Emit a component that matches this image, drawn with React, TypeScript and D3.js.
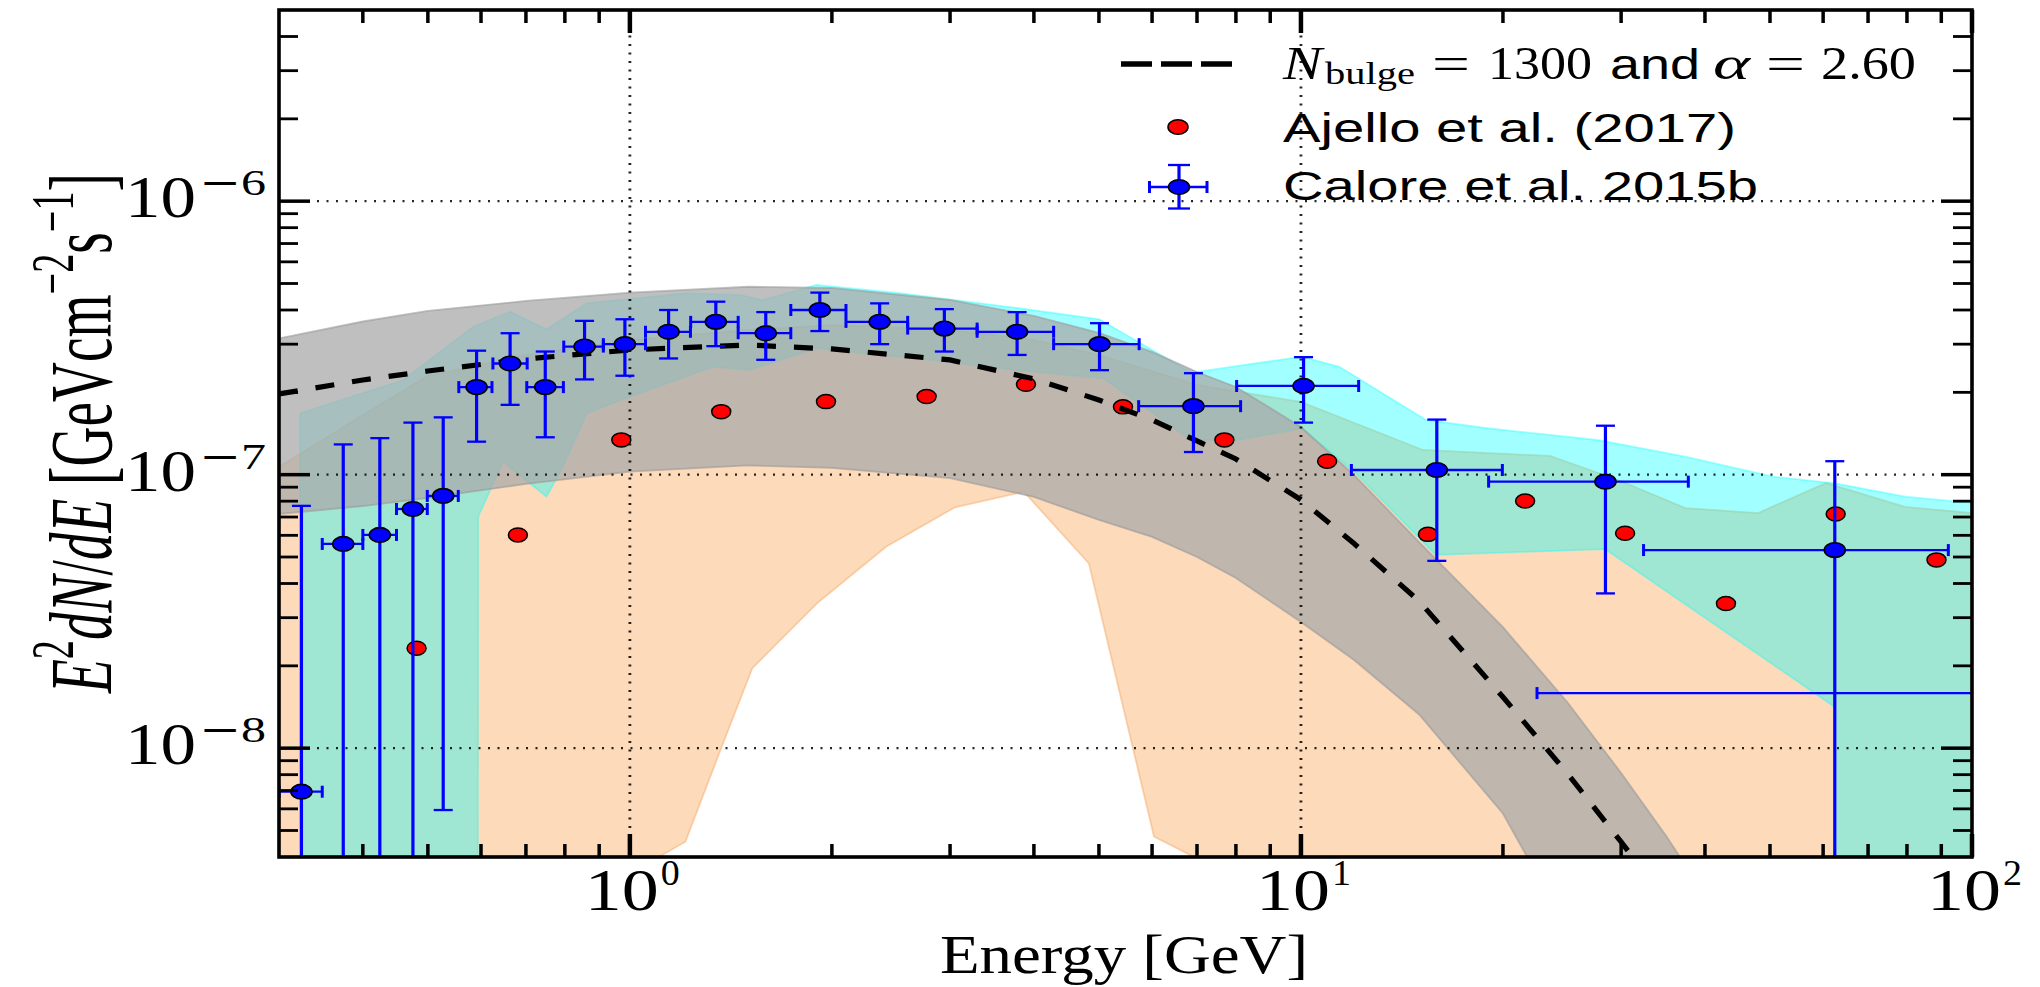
import * as d3 from 'd3'

const W = 2040
const H = 987
const M = { left: 279, right: 1972, top: 10, bottom: 857 }

// model: N_bulge = 1300, alpha = 2.60 (dashed) with its grey band
const modelE = [0.3, 0.4, 0.5, 0.7, 1, 1.5, 2, 3, 4, 5, 6, 7, 8, 10, 12, 15, 20, 25, 30, 35, 40]
const modelFlux = [1.973e-7, 2.219e-7, 2.394e-7, 2.649e-7, 2.858e-7, 2.98e-7, 2.882e-7, 2.627e-7, 2.239e-7, 1.875e-7, 1.586e-7, 1.328e-7, 1.141e-7, 8.1e-8, 5.6e-8, 3.45e-8, 1.538e-8, 8.04e-9, 4.54e-9, 2.79e-9, 1.68e-9]
const modelUpper = [3.148e-7, 3.631e-7, 3.968e-7, 4.316e-7, 4.628e-7, 4.864e-7, 4.815e-7, 4.352e-7, 3.804e-7, 3.297e-7, 2.81e-7, 2.374e-7, 2.093e-7, 1.494e-7, 9.97e-8, 5.67e-8, 2.77e-8, 1.463e-8, 8.11e-9, 4.78e-9, 2.91e-9]
const modelLower = [7.18e-8, 7.68e-8, 8.22e-8, 9.25e-8, 1.026e-7, 1.081e-7, 1.058e-7, 9.72e-8, 8.29e-8, 6.83e-8, 5.92e-8, 5.0e-8, 4.19e-8, 2.89e-8, 2.1e-8, 1.328e-8, 5.77e-9, 2.16e-9, 1.2e-9, 7e-10, 4e-10]

// Ajello et al. (2017) band (peach)
const ajelloUpE = [0.3, 0.4, 0.5, 0.7, 1, 1.5, 2, 3, 4, 5, 7, 10, 15.2, 23.5, 29.7, 37.4, 48, 60.6, 79.5, 100]
const ajelloUp = [1.067e-7, 1.653e-7, 2.296e-7, 2.741e-7, 3.108e-7, 3.38e-7, 3.526e-7, 3.38e-7, 3.108e-7, 2.741e-7, 2.128e-7, 1.844e-7, 1.231e-7, 1.171e-7, 9.56e-8, 7.55e-8, 7.24e-8, 9.32e-8, 7.62e-8, 7.24e-8]
const ajelloLoE = [0.3, 1.09, 1.104, 1.21, 1.37, 1.522, 1.902, 2.409, 3.052, 3.865, 4.83, 6.04, 6.93, 7.0, 100]
const ajelloLo = [1e-12, 1e-12, 4.0e-9, 4.55e-9, 1.01e-8, 1.96e-8, 3.39e-8, 5.45e-8, 7.6e-8, 8.66e-8, 4.74e-8, 4.75e-9, 4.0e-9, 1e-12, 1e-12]

// Calore et al. 2015b band (cyan)
const caloreUpE = [0.3225, 0.4595, 0.5843, 0.6627, 0.7512, 0.862, 1.023, 1.214, 1.458, 1.578, 1.896, 2.53, 3.802, 5.007, 6.863, 10.03, 11.41, 15.36, 18.96, 27.66, 37.4, 50.56, 62.51, 79.55, 100]
const caloreUp = [1.677e-7, 2.219e-7, 3.475e-7, 3.945e-7, 3.4e-7, 4.232e-7, 4.415e-7, 4.605e-7, 4.54e-7, 4.35e-7, 4.94e-7, 4.61e-7, 4.06e-7, 3.7e-7, 2.36e-7, 2.7e-7, 2.48e-7, 1.585e-7, 1.478e-7, 1.339e-7, 1.163e-7, 9.83e-8, 9.3e-8, 8.31e-8, 7.88e-8]
const caloreLoE = [0.3225, 0.5917, 0.5943, 0.6468, 0.7512, 0.7946, 0.862, 1.0, 1.331, 1.509, 1.896, 2.808, 3.751, 5.075, 6.863, 8.033, 10.02, 12.06, 15.87, 28.41, 62.35, 62.5, 100]
const caloreLo = [1e-12, 1e-12, 7.02e-8, 1.116e-7, 8.31e-8, 1.07e-7, 1.677e-7, 1.929e-7, 2.483e-7, 2.415e-7, 2.899e-7, 2.627e-7, 2.415e-7, 2.252e-7, 1.339e-7, 1.339e-7, 1.478e-7, 1.014e-7, 5.09e-8, 5.34e-8, 1.418e-8, 1e-12, 1e-12]

// Calore et al. 2015b points
const caloreE = [0.324, 0.374, 0.424, 0.475, 0.527, 0.591, 0.663, 0.748, 0.856, 0.983, 1.142, 1.343, 1.594, 1.919, 2.356, 2.942, 3.776, 5.01, 6.915, 10.09, 15.94, 28.43, 62.45, 150]
const caloreFlux = [6.93e-9, 5.58e-8, 6.02e-8, 7.49e-8, 8.36e-8, 2.09e-7, 2.55e-7, 2.09e-7, 2.94e-7, 3.0e-7, 3.33e-7, 3.62e-7, 3.29e-7, 4.0e-7, 3.62e-7, 3.42e-7, 3.33e-7, 3.0e-7, 1.78e-7, 2.11e-7, 1.04e-7, 9.43e-8, 5.3e-8, 1.59e-8]
const caloreElo = [0.3, 0.348, 0.4, 0.449, 0.499, 0.556, 0.625, 0.702, 0.797, 0.913, 1.055, 1.232, 1.45, 1.737, 2.099, 2.594, 3.292, 4.28, 5.73, 8.02, 11.89, 19.04, 32.4, 22.48]
const caloreEhi = [0.348, 0.4, 0.449, 0.499, 0.555, 0.623, 0.703, 0.796, 0.913, 1.055, 1.231, 1.45, 1.737, 2.099, 2.594, 3.292, 4.28, 5.74, 8.13, 12.19, 19.96, 37.78, 92.2, 250]
const caloreFluxLo = [1e-12, 1e-12, 1e-12, 1e-12, 5.94e-9, 1.32e-7, 1.8e-7, 1.37e-7, 2.23e-7, 2.3e-7, 2.66e-7, 2.95e-7, 2.63e-7, 3.35e-7, 3.0e-7, 2.82e-7, 2.74e-7, 2.41e-7, 1.21e-7, 1.55e-7, 4.84e-8, 3.68e-8, 1e-12, 1.59e-8]
const caloreFluxHi = [7.69e-8, 1.29e-7, 1.36e-7, 1.55e-7, 1.62e-7, 2.84e-7, 3.29e-7, 2.82e-7, 3.65e-7, 3.7e-7, 4.0e-7, 4.29e-7, 3.93e-7, 4.63e-7, 4.23e-7, 4.03e-7, 3.93e-7, 3.58e-7, 2.35e-7, 2.69e-7, 1.59e-7, 1.51e-7, 1.12e-7, 1.59e-8]

// Ajello et al. (2017) points
const ajelloE = [0.481, 0.681, 0.971, 1.368, 1.96, 2.768, 3.893, 5.43, 7.69, 10.94, 15.46, 21.58, 30.41, 42.99, 62.64, 88.53]
const ajelloFlux = [2.32e-8, 6.02e-8, 1.34e-7, 1.7e-7, 1.85e-7, 1.93e-7, 2.14e-7, 1.77e-7, 1.34e-7, 1.12e-7, 6.05e-8, 8.01e-8, 6.11e-8, 3.38e-8, 7.18e-8, 4.88e-8]

// ticks
const xMajor = [1, 10, 100]
const xMajorExp = ['0', '1', '2']
const xMinor = [0.4, 0.5, 0.6, 0.7, 0.8, 0.9, 2, 3, 4, 5, 6, 7, 8, 9, 20, 30, 40, 50, 60, 70, 80, 90]
const yMajor = [1e-8, 1e-7, 1e-6]
const yMajorExp = ['8', '7', '6']
const yMinor = [5e-9, 6e-9, 7e-9, 8e-9, 9e-9, 2e-8, 3e-8, 4e-8, 5e-8, 6e-8, 7e-8, 8e-8, 9e-8, 2e-7, 3e-7, 4e-7, 5e-7, 6e-7, 7e-7, 8e-7, 9e-7, 2e-6, 3e-6, 4e-6]

const SERIF = "'Liberation Serif', 'DejaVu Serif', 'Times New Roman', serif"
const SANS = "'Liberation Sans', Arial, Helvetica, sans-serif"

export default function App() {
  const x = d3.scaleLog().domain([0.3, 100]).range([M.left, M.right])
  const y = d3.scaleLog().domain([4e-9, 5e-6]).range([M.bottom, M.top])

  const band = (eu, fu, el, fl) => {
    const pts = eu.map((e, i) => [x(e), y(fu[i])])
      .concat(el.map((e, i) => [x(e), y(fl[i])]).reverse())
    return d3.line()(pts) + 'Z'
  }
  const modelPath = d3.line().x(d => x(d[0])).y(d => y(d[1]))(modelE.map((e, i) => [e, modelFlux[i]]))

  const blue = '#0000ff'

  return (
    <svg width={W} height={H} style={{ position: 'absolute', left: 0, top: 0, background: '#fff' }}>
      <defs>
        <clipPath id="plotArea">
          <rect x={M.left} y={M.top} width={M.right - M.left} height={M.bottom - M.top} />
        </clipPath>
      </defs>
      <rect x={0} y={0} width={W} height={H} fill="#fff" />

      <g clipPath="url(#plotArea)">
        {/* bands */}
        <path d={band(ajelloUpE, ajelloUp, ajelloLoE, ajelloLo)} fill="#faa250" fillOpacity={0.4}
          stroke="#f4a460" strokeOpacity={0.45} strokeWidth={1.8} />
        <path d={band(caloreUpE, caloreUp, caloreLoE, caloreLo)} fill="#00ffff" fillOpacity={0.37}
          stroke="#00ffff" strokeOpacity={0.35} strokeWidth={1.8} />
        <path d={band(modelE, modelUpper, modelE, modelLower)} fill="#aaaaaa" fillOpacity={0.75}
          stroke="#999" strokeOpacity={0.6} strokeWidth={1.8} />

        {/* grid */}
        {yMajor.map(v => (
          <line key={'gy' + v} x1={M.left} x2={M.right} y1={y(v)} y2={y(v)}
            stroke="#000" strokeWidth={2.2} strokeDasharray="2,7.5" opacity={0.85} />
        ))}
        {xMajor.slice(0, 2).map(v => (
          <line key={'gx' + v} x1={x(v)} x2={x(v)} y1={M.top} y2={M.bottom}
            stroke="#000" strokeWidth={2.8} strokeDasharray="2,6.5" opacity={0.85} />
        ))}

        {/* Ajello points */}
        {ajelloE.map((e, i) => (
          <ellipse key={'a' + i} cx={x(e)} cy={y(ajelloFlux[i])} rx={9.5} ry={7}
            fill="#ff0000" stroke="#000" strokeWidth={1.5} />
        ))}

        {/* model curve */}
        <path d={modelPath} fill="none" stroke="#000" strokeWidth={5.2} strokeDasharray="19,18" />

        {/* Calore error bars */}
        {caloreE.map((e, i) => {
          const cy = y(caloreFlux[i])
          const cx = x(e)
          const x0 = x(caloreElo[i])
          const x1 = x(caloreEhi[i])
          const y0 = y(caloreFluxLo[i])
          const y1 = y(caloreFluxHi[i])
          return (
            <g key={'c' + i} stroke={blue}>
              <line x1={x0} x2={x1} y1={cy} y2={cy} strokeWidth={2.3} />
              <line x1={x0} x2={x0} y1={cy - 6} y2={cy + 6} strokeWidth={3} />
              <line x1={x1} x2={x1} y1={cy - 6} y2={cy + 6} strokeWidth={3} />
              <line x1={cx} x2={cx} y1={y0} y2={y1} strokeWidth={3.2} />
              <line x1={cx - 9.5} x2={cx + 9.5} y1={y1} y2={y1} strokeWidth={2.3} />
              <line x1={cx - 9.5} x2={cx + 9.5} y1={y0} y2={y0} strokeWidth={2.3} />
            </g>
          )
        })}
        {caloreE.map((e, i) => (
          <ellipse key={'cm' + i} cx={x(e)} cy={y(caloreFlux[i])} rx={10.5} ry={7.3}
            fill={blue} stroke="#000" strokeWidth={1.6} />
        ))}
      </g>

      {/* ticks */}
      <g stroke="#000">
        {xMajor.map(v => (
          <g key={'xt' + v}>
            <line x1={x(v)} x2={x(v)} y1={M.bottom} y2={M.bottom - 23} strokeWidth={4.5} />
            <line x1={x(v)} x2={x(v)} y1={M.top} y2={M.top + 23} strokeWidth={4.5} />
          </g>
        ))}
        {xMinor.map(v => (
          <g key={'xm' + v}>
            <line x1={x(v)} x2={x(v)} y1={M.bottom} y2={M.bottom - 13} strokeWidth={3.5} />
            <line x1={x(v)} x2={x(v)} y1={M.top} y2={M.top + 13} strokeWidth={3.5} />
          </g>
        ))}
        {yMajor.map(v => (
          <g key={'yt' + v}>
            <line x1={M.left} x2={M.left + 31} y1={y(v)} y2={y(v)} strokeWidth={3.5} />
            <line x1={M.right} x2={M.right - 31} y1={y(v)} y2={y(v)} strokeWidth={3.5} />
          </g>
        ))}
        {yMinor.map(v => (
          <g key={'ym' + v}>
            <line x1={M.left} x2={M.left + 19} y1={y(v)} y2={y(v)} strokeWidth={2.8} />
            <line x1={M.right} x2={M.right - 19} y1={y(v)} y2={y(v)} strokeWidth={2.8} />
          </g>
        ))}
      </g>
      <rect x={M.left} y={M.top} width={M.right - M.left} height={M.bottom - M.top}
        fill="none" stroke="#000" strokeWidth={3.6} />

      {/* tick labels */}
      <g fontFamily={SERIF} fill="#000">
        {xMajor.map((v, i) => (
          <g key={'xl' + v}>
            <text x={x(v) - 45} y={910} fontSize={60} textLength={74} lengthAdjust="spacingAndGlyphs">10</text>
            <text x={x(v) + 31} y={885} fontSize={36} textLength={19} lengthAdjust="spacingAndGlyphs">{xMajorExp[i]}</text>
          </g>
        ))}
        {yMajor.map((v, i) => (
          <g key={'yl' + v}>
            <text x={M.left - 154} y={y(v) + 16} fontSize={60} textLength={71} lengthAdjust="spacingAndGlyphs">10</text>
            <text x={M.left - 80} y={y(v) - 6} fontSize={36} textLength={67} lengthAdjust="spacingAndGlyphs">
              <tspan fontFamily="'DejaVu Sans', sans-serif">{'\u2212'}</tspan>
              <tspan>{yMajorExp[i]}</tspan>
            </text>
          </g>
        ))}
      </g>

      {/* axis titles */}
      <text x={940} y={973} fontFamily={SERIF} fontSize={55} textLength={368} lengthAdjust="spacingAndGlyphs">
        Energy [GeV]
      </text>
      <text transform="translate(111,693) scale(1.72,1) rotate(-90)" fontFamily={SERIF} fontSize={52}
        textLength={520} lengthAdjust="spacingAndGlyphs">
        <tspan fontStyle="italic">E</tspan>
        <tspan fontSize={36} dy={-22}>2</tspan>
        <tspan fontStyle="italic" dy={22}>dN</tspan>
        <tspan>/</tspan>
        <tspan fontStyle="italic">dE</tspan>
        <tspan>{' [GeVcm'}</tspan>
        <tspan fontSize={36} dy={-22}>{'\u22122'}</tspan>
        <tspan dy={22}>s</tspan>
        <tspan fontSize={36} dy={-22}>{'\u22121'}</tspan>
        <tspan dy={22}>]</tspan>
      </text>

      {/* legend */}
      <g>
        <line x1={1121} x2={1237} y1={64} y2={64} stroke="#000" strokeWidth={5.5} strokeDasharray="31,9" />
        <text x={1283} y={79} fontFamily={SERIF} fontStyle="italic" fontSize={46} textLength={39} lengthAdjust="spacingAndGlyphs">N</text>
        <text x={1325} y={84} fontFamily={SERIF} fontSize={32} textLength={90} lengthAdjust="spacingAndGlyphs">bulge</text>
        <text x={1432} y={79} fontFamily={SERIF} fontSize={46} textLength={38} lengthAdjust="spacingAndGlyphs">=</text>
        <text x={1488} y={79} fontFamily={SERIF} fontSize={46} textLength={104} lengthAdjust="spacingAndGlyphs">1300</text>
        <text x={1610} y={79} fontFamily={SANS} fontSize={42} textLength={90} lengthAdjust="spacingAndGlyphs">and</text>
        <text x={1713} y={79} fontFamily={SERIF} fontStyle="italic" fontSize={46} textLength={37} lengthAdjust="spacingAndGlyphs">{'\u03b1'}</text>
        <text x={1766} y={79} fontFamily={SERIF} fontSize={46} textLength={39} lengthAdjust="spacingAndGlyphs">=</text>
        <text x={1821} y={79} fontFamily={SERIF} fontSize={46} textLength={95} lengthAdjust="spacingAndGlyphs">2.60</text>

        <ellipse cx={1178} cy={127} rx={10} ry={7.3} fill="#ff0000" stroke="#000" strokeWidth={1.5} />
        <text x={1283} y={142} fontFamily={SANS} fontSize={40} textLength={453} lengthAdjust="spacingAndGlyphs">Ajello et al. (2017)</text>

        <g stroke={blue}>
          <line x1={1149.5} x2={1207} y1={187} y2={187} strokeWidth={2.3} />
          <line x1={1149.5} x2={1149.5} y1={181} y2={193} strokeWidth={3} />
          <line x1={1207} x2={1207} y1={181} y2={193} strokeWidth={3} />
          <line x1={1179} x2={1179} y1={165} y2={208.5} strokeWidth={3.2} />
          <line x1={1168} x2={1190} y1={165} y2={165} strokeWidth={2.3} />
          <line x1={1168} x2={1190} y1={208.5} y2={208.5} strokeWidth={2.3} />
        </g>
        <ellipse cx={1179} cy={187} rx={10.5} ry={7.3} fill={blue} stroke="#000" strokeWidth={1.6} />
        <text x={1283} y={200} fontFamily={SANS} fontSize={40} textLength={475} lengthAdjust="spacingAndGlyphs">Calore et al. 2015b</text>
      </g>
    </svg>
  )
}
